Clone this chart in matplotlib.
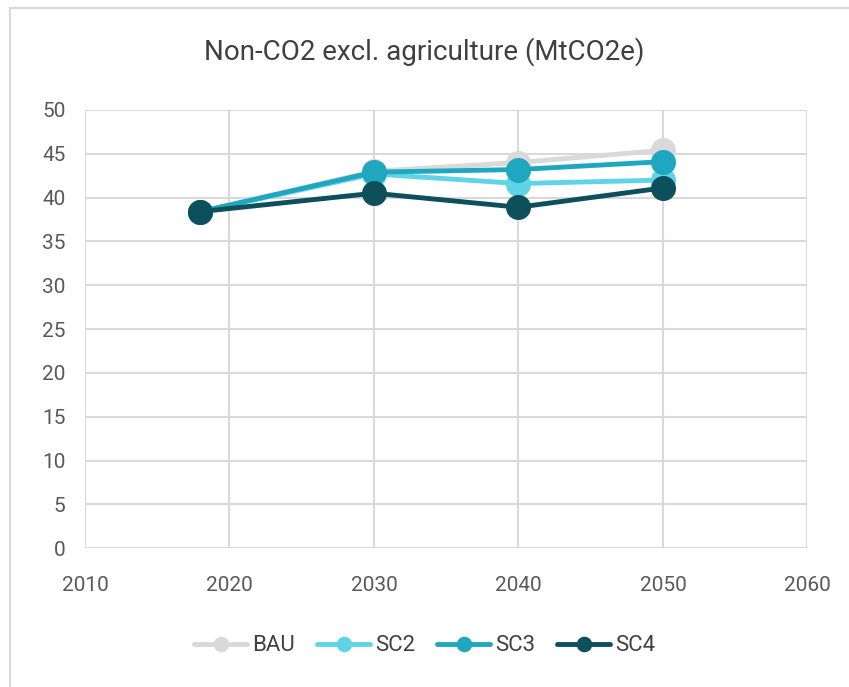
import matplotlib
matplotlib.use("Agg")
import matplotlib.pyplot as plt
from matplotlib.patches import Rectangle

years = [2018, 2030, 2040, 2050]
series = ["BAU", "SC2", "SC3", "SC4"]
bau = [38.4, 43.0, 44.0, 45.4]
sc2 = [38.4, 42.7, 41.6, 42.0]
sc3 = [38.4, 42.9, 43.2, 44.1]
sc4 = [38.4, 40.5, 38.9, 41.1]
colors = ["#d9d9d9", "#5fd4e8", "#1fa7c0", "#0e4f5c"]

plt.rcParams["font.family"] = ["Roboto", "DejaVu Sans"]

fig = plt.figure(figsize=(8.49, 6.87), dpi=100)
fig.patches.append(Rectangle((0.012, -0.1), 1.1, 1.088, transform=fig.transFigure,
                             fill=False, ec="#d9d9d9", lw=1.5))
ax = fig.add_axes([0.1, 0.202, 0.851, 0.638])

for name, vals, c in zip(series, [bau, sc2, sc3, sc4], colors):
    ax.plot(years, vals, color=c, lw=3.5, marker="o", ms=17, label=name,
            solid_capstyle="round")

ax.set_xlim(2010, 2060)
ax.set_ylim(0, 50)
ax.set_xticks(range(2010, 2061, 10))
ax.set_yticks(range(0, 51, 5))
ax.grid(color="#d9d9d9", lw=1.5)
ax.set_axisbelow(True)
for s in ax.spines.values():
    s.set_visible(False)
ax.tick_params(length=0, labelsize=15, labelcolor="#595959")
ax.tick_params(axis="x", pad=20)
ax.tick_params(axis="y", pad=14)

fig.text(0.5, 0.925, "Non-CO2 excl. agriculture (MtCO2e)", ha="center", va="center",
         fontsize=20, color="#404040")
fig.legend(loc="center", bbox_to_anchor=(0.5, 0.06), ncol=4, frameon=False,
           fontsize=16, labelcolor="#404040", handlelength=2.4, handletextpad=0.2,
           columnspacing=1.0, markerscale=0.6)

fig.savefig("out.png", dpi=100)
